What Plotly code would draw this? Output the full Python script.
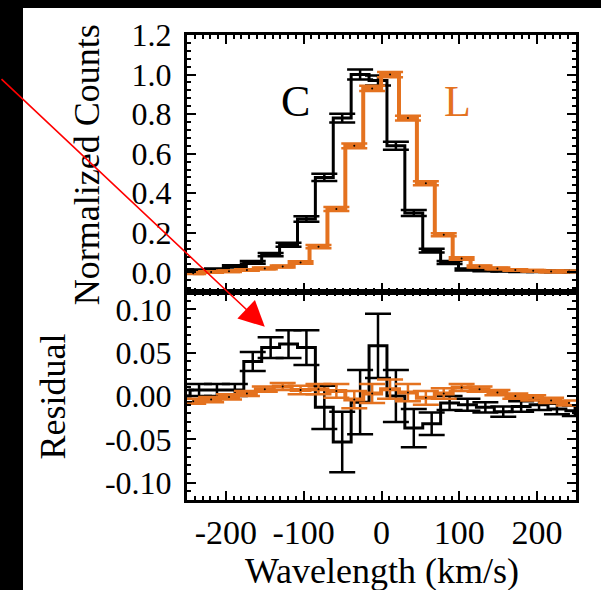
import plotly.graph_objects as go

# ---------------- data ----------------
vel_C = [-257.5, -234.5, -211.5, -188.5, -165.5, -142.5, -119.5, -96.5, -73.5, -50.5,
         -27.5, -4.5, 18.5, 41.5, 64.5, 87.5, 110.5, 133.5, 156.5, 179.5, 202.5, 225.5, 248.5]
counts_C = [0.01, 0.01, 0.015, 0.03, 0.05, 0.09, 0.14, 0.27, 0.48, 0.78,
            1.0, 0.97, 0.64, 0.30, 0.11, 0.05, 0.015, 0.01, 0.008, 0.006, 0.006, 0.005, 0.004]
counts_C_err = [0.005, 0.005, 0.005, 0.006, 0.007, 0.008, 0.01, 0.014, 0.018, 0.022,
                0.025, 0.025, 0.02, 0.015, 0.01, 0.008, 0.005, 0.004, 0.004, 0.004, 0.004, 0.004, 0.004]
resid_C = [0.0, 0.007, 0.007, 0.007, 0.04, 0.056, 0.06, 0.056, -0.013, -0.053,
           -0.007, 0.058, 0.0, -0.037, -0.032, -0.008, -0.01, -0.013, -0.018, -0.012, -0.01, -0.015, -0.017]
resid_C_err = [0.007, 0.007, 0.007, 0.007, 0.011, 0.012, 0.016, 0.02, 0.025, 0.035,
               0.037, 0.037, 0.03, 0.022, 0.013, 0.008, 0.007, 0.006, 0.006, 0.006, 0.006, 0.006, 0.006]

vel_L = [-242, -219, -196, -173, -150, -127, -104, -81, -58, -35, -12,
         11, 34, 57, 80, 103, 126, 149, 172, 195, 218, 241]
counts_L = [-0.004, 0.002, 0.006, 0.012, 0.02, 0.03, 0.05, 0.13, 0.32, 0.64, 0.93,
            1.0, 0.78, 0.45, 0.19, 0.07, 0.03, 0.02, 0.012, 0.008, 0.005, 0.005]
counts_L_err = [0.004, 0.004, 0.004, 0.004, 0.004, 0.005, 0.006, 0.008, 0.01, 0.012, 0.013,
                0.013, 0.012, 0.01, 0.008, 0.006, 0.005, 0.004, 0.004, 0.004, 0.004, 0.004]
resid_L = [-0.006, -0.004, -0.001, 0.003, 0.008, 0.011, 0.007, 0.008, 0.006, -0.004, 0.003,
           0.008, 0.004, -0.002, 0.003, 0.010, 0.008, 0.004, 0.0, -0.002, -0.005, -0.008]
resid_L_err = [0.003, 0.003, 0.003, 0.003, 0.003, 0.004, 0.005, 0.006, 0.008, 0.01, 0.011,
               0.011, 0.01, 0.008, 0.006, 0.004, 0.003, 0.003, 0.003, 0.003, 0.003, 0.003]

x_ticks = [-200, -100, 0, 100, 200]
x_ticktext = ["-200", "-100", "0", "100", "200"]
top_ticks = [0.0, 0.2, 0.4, 0.6, 0.8, 1.0, 1.2]
top_ticktext = ["0.0", "0.2", "0.4", "0.6", "0.8", "1.0", "1.2"]
bot_ticks = [-0.10, -0.05, 0.0, 0.05, 0.10]
bot_ticktext = ["-0.10", "-0.05", "0.00", "0.05", "0.10"]

BLACK = "black"
ORANGE = "#E4721F"
FONT = "Liberation Serif"

fig = go.Figure()


def add_series(x, y, err, color, lw, xa, ya, dots=False):
    fig.add_trace(go.Scatter(x=x, y=y, mode="lines", line=dict(color=color, width=lw, shape="hvh"),
                             xaxis=xa, yaxis=ya, showlegend=False, hoverinfo="skip"))
    fig.add_trace(go.Scatter(x=x, y=y, mode="markers",
                             marker=dict(size=2 if dots else 1, color="black"),
                             error_y=dict(type="data", array=err, visible=True, color=color,
                                          thickness=2.5, width=13),
                             xaxis=xa, yaxis=ya, showlegend=False, hoverinfo="skip"))


add_series(vel_C, counts_C, counts_C_err, BLACK, 3, "x", "y")
add_series(vel_L, counts_L, counts_L_err, ORANGE, 4, "x", "y", dots=True)
add_series(vel_C, resid_C, resid_C_err, BLACK, 3, "x2", "y2")
add_series(vel_L, resid_L, resid_L_err, ORANGE, 4, "x2", "y2", dots=True)

axis_common = dict(showline=True, linecolor="black", linewidth=3, mirror="allticks",
                   ticks="inside", ticklen=9, tickwidth=2, tickcolor="black",
                   showgrid=False, zeroline=False)

split = 0.447

fig.update_layout(
    width=601, height=590,
    margin=dict(l=187, r=25, t=35, b=90),
    paper_bgcolor="black", plot_bgcolor="white",
    font=dict(family=FONT, color="black"),
    xaxis=dict(domain=[0, 1], anchor="y", range=[-250, 250], tickvals=x_ticks,
               showticklabels=False,
               minor=dict(dtick=10, tick0=0, ticks="inside", ticklen=4, tickwidth=1.5, tickcolor="black"),
               **axis_common),
    yaxis=dict(domain=[split, 1], anchor="x", range=[-0.1, 1.2], tickvals=top_ticks,
               ticktext=top_ticktext, tickfont=dict(size=32, family=FONT, color="black"),
               ticklabelstandoff=6,
               minor=dict(dtick=0.04, tick0=0, ticks="inside", ticklen=4, tickwidth=1.5, tickcolor="black"),
               **axis_common),
    xaxis2=dict(domain=[0, 1], anchor="y2", range=[-250, 250], tickvals=x_ticks,
                ticktext=x_ticktext, tickfont=dict(size=34, family=FONT, color="black"),
                ticklabelstandoff=0,
                minor=dict(dtick=10, tick0=0, ticks="inside", ticklen=4, tickwidth=1.5, tickcolor="black"),
                **axis_common),
    yaxis2=dict(domain=[0, split], anchor="x2", range=[-0.12, 0.12], tickvals=bot_ticks,
                ticktext=bot_ticktext, tickfont=dict(size=32, family=FONT, color="black"),
                ticklabelstandoff=6,
                minor=dict(dtick=0.01, tick0=0, ticks="inside", ticklen=4, tickwidth=1.5, tickcolor="black"),
                **axis_common),
)

# white page area over black background
fig.add_shape(type="rect", xref="paper", yref="paper", x0=-0.4216, x1=1.07, y0=-0.2, y1=1.058,
              fillcolor="white", line=dict(width=0), layer="below")

annos = [
    dict(text="Normalized Counts", xref="paper", yref="paper", x=-0.257, y=0.72,
         textangle=-90, showarrow=False, font=dict(size=36, family=FONT, color="black"),
         xanchor="center", yanchor="middle"),
    dict(text="Residual", xref="paper", yref="paper", x=-0.344, y=0.223,
         textangle=-90, showarrow=False, font=dict(size=36, family=FONT, color="black"),
         xanchor="center", yanchor="middle"),
    dict(text="Wavelength (km/s)", xref="paper", yref="paper", x=0.501, y=-0.153,
         showarrow=False, font=dict(size=36, family=FONT, color="black"),
         xanchor="center", yanchor="middle"),
    dict(text="C", xref="x", yref="y", x=-110, y=0.865, showarrow=False,
         font=dict(size=44, family=FONT, color="black"), xanchor="center", yanchor="middle"),
    dict(text="L", xref="x", yref="y", x=98, y=0.865, showarrow=False,
         font=dict(size=44, family=FONT, color=ORANGE), xanchor="center", yanchor="middle"),
    dict(text="", xref="x2", yref="y2", x=-150, y=0.08, ax=-265, ay=-249,
         showarrow=True, arrowhead=2, arrowsize=3.2, arrowwidth=1.6, arrowcolor="red"),
]
fig.update_layout(annotations=annos)

fig.write_html("out.html", config={"displayModeBar": False},
               post_script="document.body.style.margin='0';document.body.style.background='black';"
                           "document.documentElement.style.background='black';")
